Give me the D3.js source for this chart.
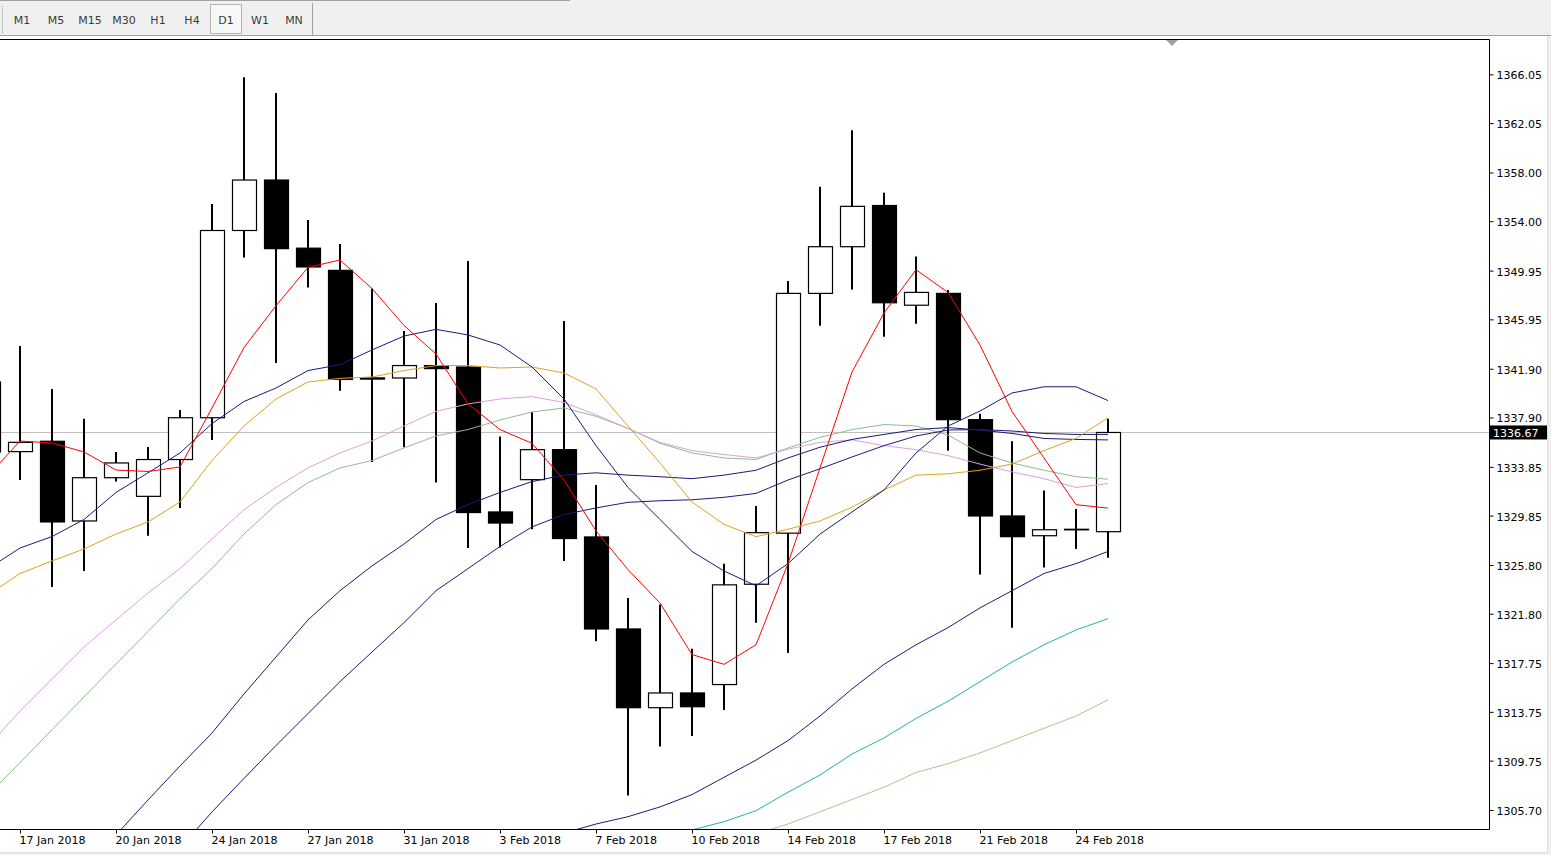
<!DOCTYPE html>
<html>
<head>
<meta charset="utf-8">
<script src="https://cdn.jsdelivr.net/npm/d3@7/dist/d3.min.js"></script>
<style>
  body { margin: 0; background: #f0f0f0; overflow: hidden; }
  svg { display: block; font-family: "DejaVu Sans", Tahoma, sans-serif; }
</style>
</head>
<body>
<script>
// Chart setup
const w = 1551;
const h = 855;
const plotRight = 1489;
const plotTop = 39;
const plotBottom = 829;

// Data: daily bars (16 Jan is only partly visible at the left edge)
const dates = ["16 Jan 2018","17 Jan 2018","18 Jan 2018","19 Jan 2018","20 Jan 2018","22 Jan 2018","23 Jan 2018","24 Jan 2018","25 Jan 2018","26 Jan 2018","27 Jan 2018","29 Jan 2018","30 Jan 2018","31 Jan 2018","1 Feb 2018","2 Feb 2018","3 Feb 2018","5 Feb 2018","6 Feb 2018","7 Feb 2018","8 Feb 2018","9 Feb 2018","10 Feb 2018","12 Feb 2018","13 Feb 2018","14 Feb 2018","15 Feb 2018","16 Feb 2018","17 Feb 2018","19 Feb 2018","20 Feb 2018","21 Feb 2018","22 Feb 2018","23 Feb 2018","24 Feb 2018","26 Feb 2018"]

const open = [1340.81, 1335.10, 1335.95, 1329.41, 1332.96, 1331.43, 1334.45, 1337.88, 1353.24, 1357.38, 1351.79, 1349.97, 1341.15, 1341.14, 1342.16, 1342.04, 1330.15, 1332.80, 1335.26, 1328.10, 1320.55, 1314.09, 1315.30, 1315.99, 1324.22, 1328.41, 1348.08, 1351.91, 1355.29, 1347.11, 1348.08, 1337.72, 1329.82, 1328.20, 1328.73, 1328.53]
const high = [1342.00, 1343.76, 1340.24, 1337.80, 1335.07, 1335.48, 1338.51, 1355.41, 1365.82, 1364.52, 1354.10, 1352.13, 1348.48, 1344.99, 1347.29, 1350.74, 1336.35, 1338.35, 1345.82, 1332.36, 1323.09, 1322.56, 1318.93, 1325.91, 1330.64, 1349.10, 1356.82, 1361.46, 1356.34, 1351.10, 1348.36, 1338.20, 1335.95, 1331.91, 1330.39, 1337.80]
const low = [1333.50, 1332.77, 1323.99, 1325.31, 1332.64, 1328.20, 1330.48, 1336.05, 1351.02, 1342.37, 1348.56, 1340.10, 1334.25, 1335.46, 1332.56, 1327.19, 1327.23, 1328.73, 1326.13, 1319.54, 1306.88, 1310.91, 1311.77, 1313.90, 1321.07, 1318.58, 1345.42, 1348.40, 1344.53, 1345.58, 1335.18, 1325.02, 1320.66, 1325.59, 1327.11, 1326.39]
const close = [1335.07, 1335.86, 1329.33, 1332.96, 1334.17, 1334.45, 1337.88, 1353.24, 1357.38, 1351.75, 1350.25, 1341.02, 1341.05, 1342.16, 1341.91, 1330.10, 1329.24, 1335.26, 1327.97, 1320.55, 1314.09, 1315.30, 1314.17, 1324.17, 1328.45, 1348.08, 1351.91, 1355.22, 1347.31, 1348.16, 1337.72, 1329.82, 1328.12, 1328.69, 1328.73, 1336.67]

// Moving averages (null = below the visible area)
const redMA = [1333.10, 1335.97, 1335.81, 1335.07, 1333.59, 1333.47, 1333.84, 1338.68, 1343.64, 1347.07, 1350.21, 1350.82, 1348.48, 1345.45, 1343.11, 1339.01, 1336.91, 1335.78, 1332.77, 1328.60, 1325.42, 1322.68, 1318.45, 1317.65, 1319.25, 1325.91, 1333.76, 1341.63, 1346.47, 1350.02, 1348.16, 1343.85, 1338.40, 1334.58, 1330.75, 1330.46]
const navyFastMA = [1325.49, 1327.19, 1328.13, 1329.53, 1331.75, 1333.36, 1334.99, 1337.40, 1339.21, 1340.32, 1341.75, 1342.23, 1343.44, 1344.58, 1345.13, 1344.67, 1343.85, 1342.04, 1339.42, 1335.59, 1332.16, 1329.53, 1326.91, 1325.31, 1324.09, 1325.91, 1328.33, 1330.15, 1331.95, 1334.99, 1337.20, 1338.43, 1339.91, 1340.42, 1340.42, 1339.29]
const orangeMA = [1323.33, 1325.10, 1326.13, 1327.11, 1328.34, 1329.33, 1330.97, 1334.37, 1337.20, 1339.42, 1340.81, 1341.11, 1341.22, 1341.75, 1342.16, 1342.16, 1341.96, 1342.04, 1341.55, 1340.24, 1337.20, 1334.17, 1330.97, 1329.13, 1328.12, 1328.73, 1329.41, 1330.54, 1331.95, 1333.17, 1333.28, 1333.57, 1334.08, 1335.18, 1336.18, 1337.88]
const plumMA = [1310.93, 1313.82, 1316.45, 1319.07, 1321.29, 1323.50, 1325.50, 1327.93, 1330.34, 1332.16, 1333.76, 1334.99, 1335.97, 1337.20, 1338.40, 1339.01, 1339.42, 1339.61, 1339.13, 1338.12, 1337.00, 1335.86, 1335.18, 1334.86, 1334.58, 1335.30, 1335.86, 1336.06, 1335.59, 1335.26, 1334.77, 1334.08, 1333.44, 1332.88, 1332.16, 1332.48]
const greenMA = [1306.91, 1309.58, 1312.28, 1314.97, 1317.68, 1320.34, 1323.04, 1325.50, 1328.34, 1330.75, 1332.56, 1333.76, 1334.37, 1335.40, 1336.38, 1336.91, 1337.69, 1338.35, 1338.68, 1338.00, 1337.00, 1335.78, 1334.99, 1334.58, 1334.45, 1335.40, 1336.27, 1336.91, 1337.32, 1337.20, 1336.46, 1334.99, 1334.17, 1333.57, 1333.04, 1332.84]
const navyMidMA = [null, null, null, null, 1303.65, 1306.52, 1309.31, 1312.02, 1315.22, 1318.25, 1321.29, 1323.69, 1325.72, 1327.52, 1329.53, 1330.75, 1331.75, 1332.64, 1333.18, 1333.36, 1333.17, 1333.04, 1332.88, 1333.17, 1333.57, 1334.58, 1335.46, 1336.10, 1336.51, 1336.91, 1337.07, 1336.87, 1336.59, 1336.18, 1336.10, 1336.06]
const navySlowMA = [null, null, null, null, null, null, 1302.58, 1305.54, 1308.29, 1310.99, 1313.61, 1316.23, 1318.66, 1321.07, 1323.69, 1325.50, 1327.32, 1328.92, 1329.94, 1330.48, 1330.94, 1331.07, 1331.15, 1331.35, 1331.67, 1332.77, 1333.69, 1334.66, 1335.59, 1336.38, 1336.87, 1336.91, 1336.79, 1336.59, 1336.51, 1336.51]
const navyLongMA = Array(18).fill(null).concat([1303.81, 1304.55, 1305.15, 1305.95, 1306.96, 1308.38, 1309.79, 1311.39, 1313.41, 1315.63, 1317.65, 1319.25, 1320.66, 1322.28, 1323.69, 1325.10, 1325.91, 1326.91])
const tealMA = Array(22).fill(null).concat([1304.06, 1304.74, 1305.64, 1307.16, 1308.57, 1310.29, 1311.61, 1313.21, 1314.62, 1316.23, 1317.84, 1319.25, 1320.47, 1321.39])
const tanMA = Array(24).fill(null).concat([1303.73, 1304.55, 1305.55, 1306.56, 1307.56, 1308.78, 1309.50, 1310.38, 1311.39, 1312.40, 1313.41, 1314.74])

// Axis labels
const priceTicks = [1366.05, 1362.05, 1358.00, 1354.00, 1349.95, 1345.95, 1341.90, 1337.90, 1333.85, 1329.85, 1325.80, 1321.80, 1317.75, 1313.75, 1309.75, 1305.70]
const dateTicks = ["17 Jan 2018","20 Jan 2018","24 Jan 2018","27 Jan 2018","31 Jan 2018","3 Feb 2018","7 Feb 2018","10 Feb 2018","14 Feb 2018","17 Feb 2018","21 Feb 2018","24 Feb 2018"]
const timeframes = ["M1","M5","M15","M30","H1","H4","D1","W1","MN"]
const activeFrame = "D1"
const lastPrice = 1336.67

const bars = dates.map((d, i) => ({ date: d, o: open[i], h: high[i], l: low[i], c: close[i] }))

const maLines = [
    { values: navyLongMA, color: "#1a1a78" },
    { values: tanMA, color: "#d2b48c" },
    { values: tealMA, color: "#20b2aa" },
    { values: greenMA, color: "#8fbc8f" },
    { values: plumMA, color: "#dda0dd" },
    { values: navySlowMA, color: "#1a1a78" },
    { values: navyMidMA, color: "#1a1a78" },
    { values: orangeMA, color: "#daa520" },
    { values: navyFastMA, color: "#1a1a78" },
    { values: redMA, color: "#ff0000" }
]

// Scales
const x = d3.scalePoint()
    .domain(dates)
    .range([-12, 1108])

const y = d3.scaleLinear()
    .domain([1304.14, 1368.95])
    .range([plotBottom, plotTop])

const svg = d3.select("body")
    .append("svg")
    .attr("width", w)
    .attr("height", h)

// Toolbar
svg.append("rect")
    .attr("x", 0).attr("y", 0)
    .attr("width", w).attr("height", 36)
    .attr("fill", "#f0f0f0")

svg.append("line")
    .attr("x1", 0).attr("x2", 570)
    .attr("y1", 0.5).attr("y2", 0.5)
    .attr("stroke", "#a0a0a0")

svg.append("line")
    .attr("x1", 2.5).attr("x2", 2.5)
    .attr("y1", 6).attr("y2", 33)
    .attr("stroke", "#a0a0a0")
    .attr("stroke-dasharray", "1,1")

const tfX = d3.scalePoint().domain(timeframes).range([22, 294])

svg.append("rect")
    .attr("x", tfX(activeFrame) - 15.5).attr("y", 4.5)
    .attr("width", 31).attr("height", 29)
    .attr("fill", "#f7f7f7")
    .attr("stroke", "#b4b4b4")

svg.selectAll(".tf")
    .data(timeframes)
    .join("text")
    .attr("class", "tf")
    .attr("x", d => tfX(d))
    .attr("y", 24)
    .attr("text-anchor", "middle")
    .attr("font-size", 11)
    .attr("fill", "#3c3c3c")
    .text(d => d)

svg.append("line")
    .attr("x1", 312.5).attr("x2", 312.5)
    .attr("y1", 3).attr("y2", 35)
    .attr("stroke", "#a0a0a0")

svg.append("line")
    .attr("x1", 0).attr("x2", w)
    .attr("y1", 35.5).attr("y2", 35.5)
    .attr("stroke", "#a0a0a0")

// Chart panel
svg.append("rect")
    .attr("x", 0).attr("y", 36)
    .attr("width", 1547).attr("height", 816)
    .attr("fill", "#ffffff")

svg.append("line")
    .attr("x1", 1547.5).attr("x2", 1547.5)
    .attr("y1", 36).attr("y2", 853)
    .attr("stroke", "#dcdcdc")
svg.append("line")
    .attr("x1", 0).attr("x2", 1548)
    .attr("y1", 852.5).attr("y2", 852.5)
    .attr("stroke", "#dcdcdc")

svg.append("clipPath")
    .attr("id", "plot")
    .append("rect")
    .attr("x", 0).attr("y", plotTop)
    .attr("width", plotRight).attr("height", plotBottom - plotTop)

const plot = svg.append("g").attr("clip-path", "url(#plot)")

// Current price line
plot.append("line")
    .attr("x1", 0).attr("x2", plotRight)
    .attr("y1", Math.round(y(lastPrice)) + 0.5).attr("y2", Math.round(y(lastPrice)) + 0.5)
    .attr("stroke", "#c0c0c0")

// Candles
const candle = plot.selectAll(".candle")
    .data(bars)
    .join("g")
    .attr("class", "candle")

candle.append("line")
    .attr("x1", d => x(d.date))
    .attr("x2", d => x(d.date))
    .attr("y1", d => y(d.h))
    .attr("y2", d => y(d.l))
    .attr("stroke", "#000")
    .attr("stroke-width", 2)

// doji bars get a minimal height so the body still shows as a dash
candle.append("rect")
    .attr("x", d => x(d.date) - 11.5)
    .attr("width", 24)
    .attr("y", d => y(Math.max(d.o, d.c)))
    .attr("height", d => Math.max(Math.abs(y(d.o) - y(d.c)), 0.6))
    .attr("fill", d => d.c >= d.o ? "#fff" : "#000")
    .attr("stroke", "#000")
    .attr("stroke-width", 1.2)

// Moving averages
const line = d3.line()
    .defined(d => d != null)
    .x((d, i) => x(dates[i]))
    .y(d => y(d))

plot.selectAll(".ma")
    .data(maLines)
    .join("path")
    .attr("class", "ma")
    .attr("d", d => line(d.values))
    .attr("fill", "none")
    .attr("stroke", d => d.color)
    .attr("stroke-width", 1)

// Chart shift marker
svg.append("path")
    .attr("d", "M1166,40 L1178,40 L1172,46 Z")
    .attr("fill", "#a0a0a0")

// Frame
svg.append("path")
    .attr("d", `M0,${plotTop + 0.5} H${plotRight + 0.5} V${plotBottom + 0.5} H0`)
    .attr("fill", "none")
    .attr("stroke", "#000")

// Price axis
const yAxis = d3.axisRight(y)
    .tickValues(priceTicks)
    .tickFormat(d3.format(".2f"))
    .tickSize(4)
    .tickPadding(3)

const yAxisG = svg.append("g")
    .attr("transform", `translate(${plotRight + 0.5}, 0)`)
    .call(yAxis)
yAxisG.select(".domain").remove()
yAxisG.selectAll("text")
    .attr("font-size", 11)
    .attr("font-family", "DejaVu Sans, sans-serif")
    .attr("fill", "#000")
    .attr("dy", "0.4em")

// Last price label
svg.append("rect")
    .attr("x", 1490).attr("y", y(lastPrice) - 7)
    .attr("width", 57).attr("height", 14)
    .attr("fill", "#000")
svg.append("text")
    .attr("x", 1493).attr("y", y(lastPrice) + 4.5)
    .attr("font-size", 11)
    .attr("fill", "#fff")
    .text(d3.format(".2f")(lastPrice))

// Date axis
const xAxis = d3.axisBottom(x)
    .tickValues(dateTicks)
    .tickSize(4)
    .tickPadding(3)

const xAxisG = svg.append("g")
    .attr("transform", `translate(0, ${plotBottom + 0.5})`)
    .call(xAxis)
xAxisG.select(".domain").remove()
xAxisG.selectAll("text")
    .attr("text-anchor", "start")
    .attr("dx", -1)
    .attr("font-size", 11)
    .attr("font-family", "DejaVu Sans, sans-serif")
    .attr("fill", "#000")
</script>
</body>
</html>
